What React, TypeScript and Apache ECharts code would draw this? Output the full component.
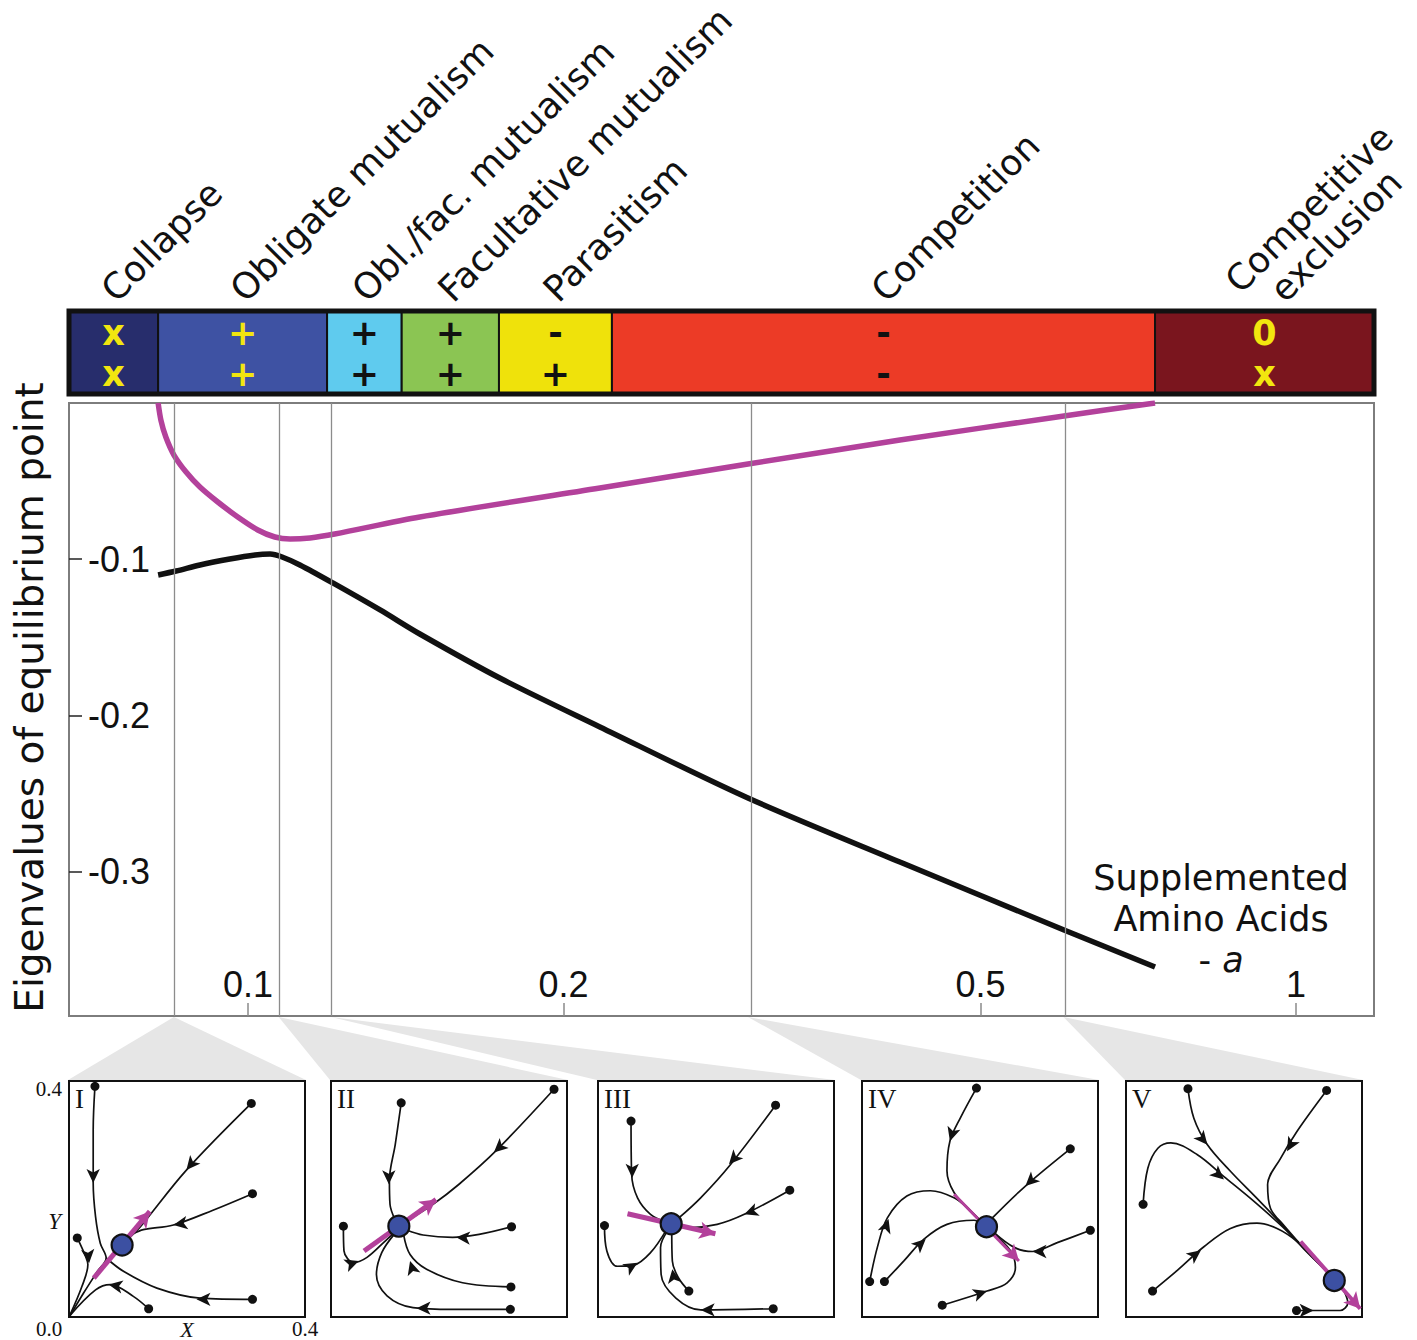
import React, { useEffect, useRef } from 'react';
import * as echarts from 'echarts';

const lg = (v: number) => Math.log10(v);

// ---------------- main plot (log-scaled amino-acid supplement) ----------------
const X_MIN = 0.0675;
const X_MAX = 1.187;
const Y_MIN = -0.3925;
const Y_MAX = 0;
const xTickValues = [0.1, 0.2, 0.5, 1];
const yTickValues = [-0.3, -0.2, -0.1];

// eigenvalue 2 (purple)
const aPurple = [0.0821, 0.0826, 0.0835, 0.085, 0.0873, 0.09, 0.0936, 0.0978, 0.1022, 0.1061, 0.1097, 0.1146, 0.121, 0.1459, 0.2167, 0.3, 0.4189, 0.6007, 0.7337];
const eigPurple = [0, -0.0109, -0.0218, -0.0333, -0.0442, -0.0538, -0.0634, -0.073, -0.0813, -0.0858, -0.0871, -0.0864, -0.0839, -0.073, -0.0544, -0.0391, -0.0237, -0.0083, 0];
// eigenvalue 1 (black)
const aBlack = [0.0821, 0.0854, 0.09, 0.0961, 0.1016, 0.105, 0.1078, 0.1121, 0.1205, 0.1337, 0.1459, 0.1739, 0.2167, 0.3, 0.4189, 0.6007, 0.7337];
const eigBlack = [-0.1101, -0.1076, -0.1037, -0.0999, -0.0973, -0.0967, -0.0986, -0.1037, -0.1152, -0.1325, -0.1479, -0.1761, -0.2074, -0.2529, -0.2939, -0.3374, -0.3611];

// parameter values of the five phase portraits
const panelA = [0.085, 0.107, 0.12, 0.3, 0.6];

// ---------------- interaction regimes band ----------------
const regimeNames = ['Collapse', 'Obligate mutualism', 'Obl./fac. mutualism', 'Facultative mutualism', 'Parasitism', 'Competition', 'Competitive\nexclusion'];
const regimeBounds = [0.0675, 0.0821, 0.119, 0.1402, 0.1736, 0.2225, 0.7337, 1.187];
const effectTop = ['x', '+', '+', '+', '-', '-', '0'];
const effectBottom = ['x', '+', '+', '+', '+', '-', 'x'];
const regimeColors = ['#272d6c', '#3e52a3', '#5fcbee', '#8bc553', '#efe20b', '#ec3b26', '#7a151e'];
const effectColors = ['#f2e60f', '#f2e60f', '#111', '#111', '#111', '#111', '#f2e60f'];

// ---------------- phase portraits (X, Y in 0..0.4) ----------------
const panelNumerals = ['I', 'II', 'III', 'IV', 'V'];
const panelTrajectories: number[][][][] = [
  [
    [[0.044, 0.391], [0.041, 0.317], [0.041, 0.227], [0.045, 0.17], [0.053, 0.125], [0.063, 0.1], [0.048, 0.077], [0.025, 0.041], [0.001, 0.001]],
    [[0.311, 0.03], [0.222, 0.032], [0.149, 0.049], [0.093, 0.077], [0.063, 0.1]],
    [[0.309, 0.362], [0.199, 0.249], [0.121, 0.153], [0.104, 0.136]],
    [[0.311, 0.209], [0.244, 0.181], [0.177, 0.156], [0.126, 0.148], [0.109, 0.141]],
    [[0.014, 0.134], [0.028, 0.103], [0.032, 0.089], [0.022, 0.052], [0.001, 0.002]],
    [[0.135, 0.014], [0.109, 0.035], [0.07, 0.055], [0.045, 0.046], [0.001, 0.002]],
  ],
  [
    [[0.119, 0.363], [0.109, 0.293], [0.099, 0.231], [0.1, 0.191], [0.109, 0.164]],
    [[0.378, 0.386], [0.279, 0.281], [0.217, 0.225], [0.173, 0.191], [0.129, 0.163]],
    [[0.021, 0.154], [0.022, 0.112], [0.039, 0.092], [0.061, 0.101], [0.089, 0.126], [0.107, 0.143]],
    [[0.306, 0.153], [0.251, 0.14], [0.206, 0.135], [0.156, 0.139], [0.129, 0.147]],
    [[0.305, 0.051], [0.223, 0.058], [0.162, 0.081], [0.134, 0.106], [0.123, 0.14]],
    [[0.304, 0.013], [0.206, 0.013], [0.139, 0.016], [0.095, 0.036], [0.077, 0.072], [0.086, 0.109], [0.107, 0.14]],
  ],
  [
    [[0.056, 0.332], [0.057, 0.242], [0.067, 0.202], [0.089, 0.174], [0.113, 0.162]],
    [[0.301, 0.359], [0.225, 0.259], [0.174, 0.202], [0.136, 0.167]],
    [[0.325, 0.215], [0.248, 0.174], [0.202, 0.157], [0.151, 0.151], [0.133, 0.154]],
    [[0.011, 0.155], [0.015, 0.112], [0.033, 0.086], [0.061, 0.088], [0.089, 0.109], [0.115, 0.146]],
    [[0.154, 0.044], [0.136, 0.067], [0.126, 0.095], [0.125, 0.143]],
    [[0.297, 0.014], [0.174, 0.012], [0.132, 0.032], [0.107, 0.072], [0.106, 0.118], [0.118, 0.146]],
  ],
  [
    [[0.194, 0.388], [0.167, 0.338], [0.149, 0.298], [0.144, 0.248], [0.156, 0.211], [0.184, 0.18], [0.204, 0.16]],
    [[0.136, 0.02], [0.212, 0.044], [0.246, 0.058], [0.26, 0.084], [0.252, 0.112], [0.218, 0.146]],
    [[0.013, 0.06], [0.026, 0.118], [0.043, 0.168], [0.076, 0.205], [0.116, 0.214], [0.156, 0.202], [0.184, 0.18], [0.204, 0.16]],
    [[0.038, 0.06], [0.071, 0.095], [0.105, 0.132], [0.144, 0.157], [0.19, 0.164], [0.202, 0.157]],
    [[0.353, 0.285], [0.277, 0.222], [0.221, 0.168]],
    [[0.387, 0.147], [0.331, 0.126], [0.289, 0.111], [0.258, 0.118], [0.224, 0.143]],
  ],
  [
    [[0.105, 0.387], [0.115, 0.337], [0.138, 0.292], [0.177, 0.247], [0.222, 0.201], [0.262, 0.159], [0.301, 0.116], [0.341, 0.077]],
    [[0.34, 0.384], [0.29, 0.315], [0.262, 0.269], [0.24, 0.224], [0.245, 0.184], [0.267, 0.156], [0.307, 0.111], [0.341, 0.077]],
    [[0.029, 0.191], [0.037, 0.252], [0.054, 0.286], [0.076, 0.295], [0.121, 0.275], [0.166, 0.238], [0.217, 0.196], [0.265, 0.153], [0.307, 0.111], [0.341, 0.077]],
    [[0.045, 0.044], [0.087, 0.079], [0.132, 0.119], [0.177, 0.15], [0.222, 0.159], [0.256, 0.15], [0.29, 0.128], [0.324, 0.094], [0.341, 0.077]],
    [[0.289, 0.011], [0.324, 0.011], [0.363, 0.011], [0.376, 0.024], [0.369, 0.045]],
  ],
];
// arrowheads: [x, y, dx, dy]
const panelArrows: number[][][] = [
  [[0.041, 0.227, 0, -1], [0.199, 0.249, -140, -170], [0.177, 0.156, -90, -15], [0.216, 0.03, -1, 0], [0.034, 0.091, 0.1, -1], [0.067, 0.055, -115, 20]],
  [[0.098, 0.225, 0, -1], [0.276, 0.279, -110, -100], [0.047, 0.095, 40, 15], [0.212, 0.135, -1, 0.05], [0.134, 0.095, -15, 50], [0.145, 0.015, -1, 0]],
  [[0.058, 0.236, 0, -1], [0.222, 0.259, -90, -100], [0.248, 0.174, -80, -30], [0.067, 0.092, 50, 30], [0.126, 0.081, -8, 50], [0.174, 0.012, -1, 0]],
  [[0.149, 0.298, -0.3, -1], [0.277, 0.222, -100, -95], [0.289, 0.111, -1, 0], [0.212, 0.044, 60, 20], [0.045, 0.166, 20, 60], [0.108, 0.132, 60, 55]],
  [[0.138, 0.292, 50, -60], [0.273, 0.281, -40, -70], [0.166, 0.233, 80, -70], [0.127, 0.113, 80, 60], [0.318, 0.011, 1, 0]],
];
const panelEquilibria = [[0.09, 0.122], [0.115, 0.154], [0.124, 0.158], [0.211, 0.153], [0.353, 0.062]];
const panelEigenvectors = [
  [[0.042, 0.066], [0.137, 0.179]],
  [[0.056, 0.112], [0.178, 0.199]],
  [[0.05, 0.175], [0.199, 0.141]],
  [[0.156, 0.208], [0.266, 0.095]],
  [[0.296, 0.128], [0.397, 0.014]],
];

// ---------------- layout / style constants ----------------
const PANEL_LEFTS = [69, 331, 598, 862, 1126];
const PANEL_TOP = 1081;
const PANEL_SIZE = 236;
const eigenWidths = [5, 5, 5, 3, 4];
const SANS = '"DejaVu Sans", sans-serif';
const ARIAL = '"Liberation Sans", Arial, sans-serif';
const SERIF = '"Liberation Serif", "Times New Roman", serif';
const PURPLE = '#b3419b';
const INK = '#111111';

function measure(text: string, font: string): number {
  const ctx = document.createElement('canvas').getContext('2d');
  if (!ctx) return text.length * 20;
  ctx.font = font;
  return ctx.measureText(text).width;
}

function buildOption(): any {
  const grids: any[] = [
    { left: 69, top: 403, width: 1305, height: 613, show: true, borderColor: '#7d7d7d', borderWidth: 2, backgroundColor: 'rgba(0,0,0,0)', outerBoundsMode: 'none', containLabel: false },
    { left: 69, top: 311, width: 1305, height: 83, show: false, outerBoundsMode: 'none', containLabel: false },
  ];
  const xAxes: any[] = [
    {
      gridIndex: 0, type: 'value', min: lg(X_MIN), max: lg(X_MAX), position: 'bottom',
      axisLine: { show: false, onZero: false }, splitLine: { show: false },
      axisTick: { show: true, inside: true, length: 13, customValues: xTickValues.map(lg), lineStyle: { color: '#8a8a8a', width: 1.5 } },
      axisLabel: {
        show: true, inside: true, margin: 14, customValues: xTickValues.map(lg),
        formatter: (v: number) => String(Number(Math.pow(10, v).toPrecision(1))),
        fontFamily: ARIAL, fontSize: 36, color: INK,
      },
    },
    { gridIndex: 1, type: 'value', min: lg(X_MIN), max: lg(X_MAX), show: false, axisLine: { onZero: false } },
  ];
  const yAxes: any[] = [
    {
      gridIndex: 0, type: 'value', min: Y_MIN, max: Y_MAX, position: 'left',
      axisLine: { show: false, onZero: false }, splitLine: { show: false },
      axisTick: { show: true, inside: true, length: 13, customValues: yTickValues, lineStyle: { color: '#222', width: 1.5 } },
      axisLabel: {
        show: true, inside: true, margin: 19, customValues: yTickValues,
        formatter: (v: number) => v.toFixed(1), fontFamily: ARIAL, fontSize: 36, color: INK,
      },
      name: 'Eigenvalues of equilibrium point', nameLocation: 'middle', nameRotate: 90, nameGap: 20, nameMoveOverlap: false,
      nameTextStyle: { fontFamily: SANS, fontSize: 39, color: INK, padding: [0, 0, 0, 24] },
    },
    { gridIndex: 1, type: 'value', min: 0, max: 1, show: false, axisLine: { onZero: false } },
  ];

  const series: any[] = [
    {
      type: 'line', xAxisIndex: 0, yAxisIndex: 0, data: [], z: 1, silent: true,
      markLine: {
        silent: true, symbol: 'none', label: { show: false },
        lineStyle: { color: '#8c8c8c', width: 1.3, type: 'solid' },
        data: panelA.map((a) => ({ xAxis: lg(a) })),
      },
    },
    {
      type: 'line', name: 'eigenvalue 2', xAxisIndex: 0, yAxisIndex: 0, z: 3, smooth: 0.3, symbol: 'none',
      lineStyle: { color: PURPLE, width: 5.5 },
      data: aPurple.map((a, i) => [lg(a), eigPurple[i]]),
    },
    {
      type: 'line', name: 'eigenvalue 1', xAxisIndex: 0, yAxisIndex: 0, z: 3, smooth: 0.3, symbol: 'none',
      lineStyle: { color: INK, width: 5.5 },
      data: aBlack.map((a, i) => [lg(a), eigBlack[i]]),
    },
    {
      type: 'custom', xAxisIndex: 1, yAxisIndex: 1, z: 3, silent: true,
      data: regimeNames.map((_, i) => [lg(regimeBounds[i]), lg(regimeBounds[i + 1]), i]),
      renderItem: (params: any, api: any) => {
        const i = api.value(2);
        const p0 = api.coord([api.value(0), 1]);
        const p1 = api.coord([api.value(1), 0]);
        const w = p1[0] - p0[0];
        const h = p1[1] - p0[1];
        return {
          type: 'group',
          children: [
            { type: 'rect', shape: { x: p0[0], y: p0[1], width: w, height: h }, style: { fill: regimeColors[i], stroke: INK, lineWidth: 2 } },
            {
              type: 'text', x: p0[0] + w / 2, y: p0[1] + h / 2 + 1,
              style: {
                text: `${effectTop[i]}\n${effectBottom[i]}`, font: `bold 35px ${SANS}`, lineHeight: 41,
                fill: effectColors[i], textAlign: 'center', textVerticalAlign: 'middle', align: 'center', verticalAlign: 'middle',
              },
            },
          ],
        };
      },
    },
    {
      type: 'custom', xAxisIndex: 1, yAxisIndex: 1, z: 4, silent: true,
      data: [[lg(X_MIN), lg(X_MAX)]],
      renderItem: (params: any, api: any) => {
        const p0 = api.coord([api.value(0), 1]);
        const p1 = api.coord([api.value(1), 0]);
        return { type: 'rect', shape: { x: p0[0], y: p0[1], width: p1[0] - p0[0], height: p1[1] - p0[1] }, style: { fill: 'none', stroke: INK, lineWidth: 5 } };
      },
    },
  ];

  panelNumerals.forEach((_, p) => {
    const gi = p + 2;
    const first = p === 0;
    grids.push({ left: PANEL_LEFTS[p], top: PANEL_TOP, width: PANEL_SIZE, height: PANEL_SIZE, show: true, borderColor: INK, borderWidth: 2, backgroundColor: '#fff', outerBoundsMode: 'none', containLabel: false });
    xAxes.push({
      gridIndex: gi, type: 'value', min: 0, max: 0.4, interval: 0.4,
      axisLine: { show: false, onZero: false }, axisTick: { show: false }, splitLine: { show: false },
      axisLabel: {
        show: first, margin: 2, fontFamily: SERIF, fontSize: 21, lineHeight: 20, color: INK,
        formatter: (v: number) => (v === 0 ? '{l|0.0}' : '{r|0.4}'),
        rich: {
          l: { fontFamily: SERIF, fontSize: 21, lineHeight: 20, color: INK, padding: [0, 40, 0, 0] },
          r: { fontFamily: SERIF, fontSize: 21, lineHeight: 20, color: INK },
        },
      },
      name: first ? 'X' : '', nameLocation: 'middle', nameGap: 2, nameMoveOverlap: false,
      nameTextStyle: { fontFamily: SERIF, fontStyle: 'italic', fontSize: 22, lineHeight: 20, color: INK },
    });
    yAxes.push({
      gridIndex: gi, type: 'value', min: 0, max: 0.4, interval: 0.4,
      axisLine: { show: false, onZero: false }, axisTick: { show: false }, splitLine: { show: false },
      axisLabel: {
        show: first, margin: 7, fontFamily: SERIF, fontSize: 21, color: INK,
        formatter: (v: number) => (v === 0 ? '' : '{t|0.4}'),
        rich: { t: { fontFamily: SERIF, fontSize: 21, color: INK, padding: [16, 0, 0, 0] } },
      },
      name: first ? 'Y' : '', nameLocation: 'middle', nameRotate: 0, nameGap: 8, nameMoveOverlap: false,
      nameTextStyle: { fontFamily: SERIF, fontStyle: 'italic', fontSize: 23, color: INK, verticalAlign: 'top', lineHeight: 44 },
    });

    panelTrajectories[p].forEach((traj) => {
      series.push({
        type: 'line', xAxisIndex: gi, yAxisIndex: gi, data: traj, smooth: 0.35, symbol: 'none', z: 3, silent: true,
        lineStyle: { color: INK, width: 1.7 },
      });
    });
    series.push({
      type: 'line', xAxisIndex: gi, yAxisIndex: gi, data: [], z: 4, silent: true,
      markLine: {
        silent: true, symbol: ['none', 'arrow'], symbolSize: [13, 16], label: { show: false },
        lineStyle: { color: PURPLE, width: eigenWidths[p], type: 'solid', opacity: 1 },
        data: [[{ coord: panelEigenvectors[p][0] }, { coord: panelEigenvectors[p][1] }]],
      },
    });
    series.push({
      type: 'scatter', xAxisIndex: gi, yAxisIndex: gi, z: 5, silent: true,
      symbol: 'circle', symbolSize: 9, itemStyle: { color: INK, opacity: 1 },
      data: panelTrajectories[p].map((t) => t[0]),
    });
    series.push({
      type: 'scatter', xAxisIndex: gi, yAxisIndex: gi, z: 5, silent: true,
      symbol: 'arrow', symbolSize: [10, 14], itemStyle: { color: INK, opacity: 1 },
      data: panelArrows[p].map(([x, y, dx, dy]) => ({ value: [x, y], symbolRotate: (Math.atan2(dy, dx) * 180) / Math.PI - 90 })),
    });
    series.push({
      type: 'scatter', xAxisIndex: gi, yAxisIndex: gi, z: 6, silent: true,
      symbol: 'circle', symbolSize: 21, itemStyle: { color: '#3c50a2', borderColor: INK, borderWidth: 2.2, opacity: 1 },
      data: [panelEquilibria[p]],
    });
  });

  return {
    animation: false,
    backgroundColor: '#ffffff',
    textStyle: { fontFamily: SANS },
    grid: grids,
    xAxis: xAxes,
    yAxis: yAxes,
    series,
  };
}

function buildGraphics(chart: any): any[] {
  const els: any[] = [];
  const c = Math.SQRT1_2;
  // connectors from parameter lines to phase portraits
  const axisBottom = chart.convertToPixel({ yAxisIndex: 0 }, Y_MIN);
  panelA.forEach((a, p) => {
    const ax = chart.convertToPixel({ xAxisIndex: 0 }, lg(a));
    const tl = chart.convertToPixel({ gridIndex: p + 2 }, [0, 0.4]);
    const tr = chart.convertToPixel({ gridIndex: p + 2 }, [0.4, 0.4]);
    els.push({ type: 'polygon', z: 0, silent: true, shape: { points: [[ax, axisBottom + 1], [tl[0] - 1, tl[1] - 1], [tr[0] + 1, tr[1] - 1]] }, style: { fill: '#e6e6e6' } });
    els.push({
      type: 'text', z: 10, x: tl[0] + 6, y: tl[1] + 4,
      style: { text: panelNumerals[p], font: `27px ${SERIF}`, fill: INK, textAlign: 'left', textVerticalAlign: 'top', align: 'left', verticalAlign: 'top' },
    });
  });
  // regime labels (rotated 45°)
  const FS = 36;
  const LH = 38;
  const font = `${FS}px ${SANS}`;
  const bandTop = chart.convertToPixel({ yAxisIndex: 1 }, 1);
  regimeNames.forEach((name, i) => {
    const lines = name.split('\n');
    const ws = lines.map((l) => measure(l, font));
    const wMax = Math.max(...ws);
    const wLast = ws[ws.length - 1];
    const cx = chart.convertToPixel({ xAxisIndex: 1 }, (lg(regimeBounds[i]) + lg(regimeBounds[i + 1])) / 2);
    const bx = cx + 3 + (c * (wMax - wLast)) / 2;
    const by = bandTop - 7;
    lines.forEach((line, k) => {
      const back = lines.length - 1 - k;
      const du = -(ws[k] - wLast) / 2;
      const dv = -back * LH - 0.35 * FS;
      const sx = bx + c * du + c * dv;
      const sy = by - c * du + c * dv;
      els.push({
        type: 'text', z: 10, x: sx, y: sy, rotation: Math.PI / 4,
        style: { text: line, font, fill: INK, textAlign: 'left', textVerticalAlign: 'middle', align: 'left', verticalAlign: 'middle' },
      });
    });
  });
  // x-axis title
  els.push({
    type: 'text', z: 10, x: 1221, y: 857,
    style: {
      text: '{n|Supplemented}\n{n|Amino Acids}\n{n|- }{i|a}',
      textAlign: 'center', textVerticalAlign: 'top', align: 'center', verticalAlign: 'top',
      rich: {
        n: { fontFamily: SANS, fontSize: 35, lineHeight: 41, fill: INK, color: INK },
        i: { fontFamily: SANS, fontSize: 35, lineHeight: 41, fontStyle: 'italic', fill: INK, color: INK },
      },
    },
  });
  return els;
}

export default function App() {
  const ref = useRef<HTMLDivElement>(null);
  useEffect(() => {
    if (!ref.current) return;
    const chart = echarts.init(ref.current, null, { renderer: 'svg' });
    chart.setOption(buildOption());
    chart.setOption({ graphic: { elements: buildGraphics(chart) } });
    return () => chart.dispose();
  }, []);
  return <div ref={ref} style={{ position: 'absolute', left: 0, top: 0, width: 1417, height: 1340, background: '#fff' }} />;
}
